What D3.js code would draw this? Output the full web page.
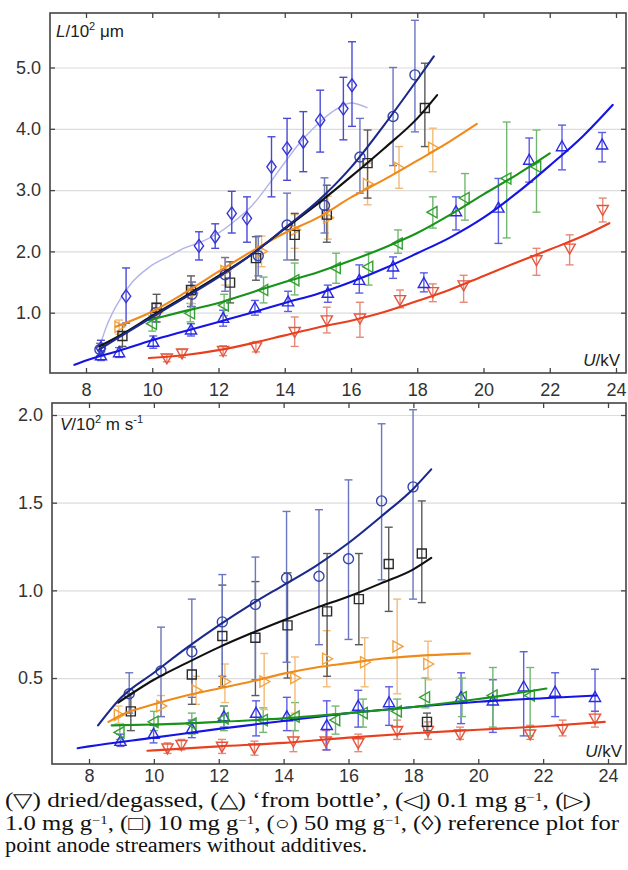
<!DOCTYPE html>
<html><head><meta charset="utf-8">
<script src="https://cdn.jsdelivr.net/npm/d3@7"></script>
<style>
html,body{margin:0;padding:0;background:#fff;}
svg{display:block;}
.cap{font-family:"Liberation Serif","Times New Roman",serif;}
</style></head><body>
<svg id="c" width="628" height="870"></svg>
<script>
// ---------- tick labels ----------
const xTicks = [8,10,12,14,16,18,20,22,24];
const yTicksL = [1,2,3,4,5];
const yTicksV = [0.5,1.0,1.5,2.0];

// ---------- top panel: streamer length L / 10^2 µm  [U kV, L, low, high] ----------
const L_dried = [[10.44,0.26,0.20,0.32],[10.90,0.34,0.27,0.40],[12.14,0.38,0.30,0.46],[13.13,0.44,0.36,0.53],[14.30,0.69,0.45,0.93],[15.27,0.88,0.67,1.09],[16.27,0.91,0.60,1.17],[17.48,1.21,1.08,1.37],[18.47,1.34,1.18,1.47],[19.40,1.45,1.17,1.61],[21.60,1.86,1.61,2.05],[22.60,2.05,1.78,2.27],[23.60,2.68,2.48,2.87]];
const L_bottle = [[8.45,0.30,0.22,0.38],[9.00,0.35,0.27,0.43],[10.03,0.52,0.42,0.62],[11.17,0.72,0.62,0.82],[12.14,0.91,0.78,1.04],[13.10,1.08,0.96,1.20],[14.10,1.18,1.02,1.35],[15.30,1.32,1.17,1.45],[16.25,1.53,1.32,1.78],[17.27,1.75,1.56,1.91],[18.20,1.48,1.34,1.65],[19.17,2.65,2.35,2.89],[20.45,2.71,2.13,3.19],[21.38,3.49,3.13,3.85],[22.37,3.71,3.33,4.06],[23.58,3.74,3.46,3.94]];
const L_01 = [[10.00,0.82,0.70,0.95],[11.15,0.99,0.85,1.15],[12.17,1.12,0.95,1.30],[13.36,1.37,1.16,1.58],[14.30,1.53,1.29,1.81],[15.55,1.73,1.48,1.97],[16.53,1.75,1.45,1.99],[17.42,2.13,1.97,2.35],[18.47,2.64,2.38,2.89],[19.44,2.87,2.51,3.27],[20.70,3.19,2.22,4.11],[21.60,3.38,2.64,3.98]];
const L_1 = [[9.00,0.77,0.65,0.88],[10.13,1.00,0.85,1.15],[11.20,1.32,1.15,1.50],[12.20,1.68,1.45,1.90],[13.30,2.00,1.75,2.25],[14.30,2.35,2.05,2.60],[15.30,2.55,2.20,2.90],[16.50,3.10,2.76,3.44],[17.45,3.36,3.03,3.71],[18.47,3.69,3.30,4.01]];
const L_10 = [[9.10,0.62,0.45,0.80],[10.13,1.08,0.85,1.30],[11.17,1.37,1.10,1.60],[12.35,1.49,1.16,1.83],[13.13,1.89,1.53,2.24],[14.30,2.27,1.86,2.62],[15.27,2.60,2.15,3.08],[16.50,3.44,2.87,3.98],[18.23,4.34,3.71,5.07]];
const L_50 = [[8.42,0.40,0.30,0.50],[10.10,1.00,0.85,1.15],[11.20,1.30,1.10,1.50],[12.20,1.62,1.35,1.90],[13.20,1.93,1.60,2.25],[14.07,2.43,1.86,2.95],[15.20,2.75,2.30,3.20],[16.27,3.54,2.95,4.17],[17.27,4.20,3.40,5.00],[17.93,4.88,3.95,5.77]];
const L_ref = [[8.45,0.42,0.30,0.55],[9.21,1.27,0.83,1.73],[11.41,2.09,1.86,2.32],[11.90,2.24,2.05,2.45],[12.40,2.62,2.30,2.98],[12.86,2.54,2.15,2.89],[13.60,3.38,2.89,3.87],[14.07,3.68,3.16,4.17],[14.56,3.79,3.30,4.28],[15.07,4.14,3.62,4.63],[15.77,4.33,3.82,4.84],[16.03,4.71,4.04,5.42]];

// fitted curves, top panel [U, L]
const fitL_dried = [[9.9,0.26],[11,0.31],[12,0.39],[13,0.50],[14,0.63],[15,0.76],[16,0.87],[17,1.01],[18,1.19],[19,1.38],[20,1.60],[21,1.82],[22,2.03],[23,2.25],[23.8,2.46]];
const fitL_bottle = [[7.65,0.15],[8,0.22],[9,0.38],[10,0.55],[11,0.70],[12,0.85],[13,1.00],[14,1.16],[15,1.31],[16,1.50],[17,1.72],[18,1.97],[19,2.23],[20,2.55],[21,2.95],[22,3.40],[23,3.88],[23.9,4.39]];
const fitL_01 = [[9.9,0.88],[11,1.03],[12,1.16],[13,1.33],[14,1.50],[15,1.66],[16,1.85],[17,2.06],[18,2.30],[19,2.60],[20,2.93],[21,3.25],[22,3.60]];
const fitL_1 = [[8.9,0.77],[10,1.02],[11,1.33],[12,1.67],[13,2.00],[14,2.30],[15,2.55],[16,2.88],[17,3.17],[18,3.48],[19,3.80],[19.8,4.08]];
const fitL_10 = [[8.4,0.45],[9,0.62],[10,0.95],[11,1.27],[12,1.60],[13,1.95],[14,2.37],[15,2.78],[16,3.22],[17,3.68],[18,4.17],[18.6,4.55]];
const fitL_50 = [[8.4,0.40],[9,0.60],[10,0.93],[11,1.25],[12,1.58],[13,1.95],[14,2.38],[15,2.82],[16,3.37],[17,4.06],[18,4.80],[18.5,5.18]];
const fitL_ref = [[8.4,0.42],[8.6,0.75],[8.9,1.10],[9.4,1.50],[9.9,1.74],[10.5,1.92],[11,2.06],[11.5,2.16],[12,2.30],[12.5,2.50],[13,2.74],[13.5,3.08],[14,3.45],[14.5,3.80],[15,4.08],[15.5,4.30],[16,4.42],[16.5,4.34]];

// ---------- bottom panel: velocity V / 10^2 m s^-1 [U kV, V, low, high] ----------
const V_dried = [[10.42,0.10,0.07,0.13],[10.85,0.12,0.09,0.15],[12.10,0.11,0.07,0.15],[13.10,0.10,0.06,0.14],[14.30,0.14,0.08,0.20],[15.30,0.14,0.09,0.20],[16.30,0.13,0.08,0.18],[17.50,0.20,0.15,0.26],[18.45,0.20,0.15,0.25],[19.44,0.18,0.15,0.22],[21.60,0.18,0.15,0.23],[22.60,0.21,0.17,0.26],[23.60,0.27,0.22,0.31]];
const V_bottle = [[8.97,0.14,0.11,0.18],[9.99,0.18,0.13,0.23],[11.17,0.21,0.16,0.26],[12.16,0.28,0.22,0.34],[13.15,0.30,0.17,0.37],[14.10,0.28,0.20,0.39],[15.33,0.23,0.09,0.37],[16.30,0.34,0.22,0.43],[17.25,0.36,0.23,0.45],[19.47,0.39,0.24,0.53],[20.45,0.37,0.19,0.49],[21.40,0.45,0.17,0.65],[22.37,0.42,0.28,0.53],[23.60,0.39,0.31,0.55]];
const V_01 = [[8.95,0.19,0.15,0.24],[10.00,0.25,0.20,0.31],[11.17,0.24,0.18,0.30],[12.16,0.27,0.20,0.34],[13.37,0.26,0.19,0.33],[14.35,0.28,0.20,0.36],[15.60,0.26,0.18,0.34],[16.45,0.30,0.22,0.38],[17.50,0.31,0.22,0.38],[18.37,0.39,0.33,0.50],[19.50,0.39,0.28,0.50],[20.45,0.40,0.22,0.56],[21.60,0.40,0.17,0.56]];
const V_1 = [[8.91,0.29,0.24,0.34],[10.22,0.34,0.28,0.40],[11.30,0.43,0.35,0.51],[12.19,0.48,0.36,0.58],[13.40,0.48,0.32,0.64],[14.35,0.50,0.30,0.62],[15.33,0.61,0.45,0.77],[16.50,0.59,0.45,0.73],[17.50,0.68,0.41,0.95],[18.45,0.58,0.49,0.71]];
const V_10 = [[9.29,0.31,0.20,0.41],[11.17,0.52,0.35,0.68],[12.11,0.74,0.45,1.03],[13.13,0.73,0.40,1.05],[14.12,0.80,0.50,1.10],[15.34,0.88,0.51,1.21],[16.32,0.95,0.69,1.21],[17.24,1.15,0.88,1.36],[18.26,1.21,0.93,1.51],[18.42,0.25,0.20,0.30]];
const V_50 = [[9.24,0.41,0.30,0.53],[10.22,0.54,0.28,0.79],[11.17,0.65,0.39,0.95],[12.11,0.82,0.51,1.09],[13.13,0.92,0.49,1.19],[14.09,1.07,0.59,1.45],[15.09,1.08,0.69,1.46],[16.00,1.18,0.72,1.63],[17.02,1.51,1.06,1.95],[17.99,1.59,0.95,2.03]];

// fitted curves, bottom panel [U, V]
const fitV_dried = [[9.8,0.085],[12,0.11],[14,0.13],[16,0.16],[18,0.185],[20,0.205],[22,0.225],[23.9,0.25]];
const fitV_bottle = [[7.65,0.10],[8,0.11],[10,0.16],[12,0.21],[14,0.255],[16,0.30],[18,0.335],[20,0.365],[22,0.385],[23.65,0.40]];
const fitV_01 = [[8.7,0.23],[10,0.235],[12,0.25],[14,0.27],[16,0.30],[18,0.335],[20,0.38],[22.1,0.44]];
const fitV_1 = [[8.6,0.25],[9,0.29],[10,0.35],[11,0.40],[12,0.44],[13,0.48],[14,0.525],[15,0.56],[16,0.585],[17,0.61],[18,0.625],[19,0.635],[19.75,0.64]];
const fitV_10 = [[8.9,0.36],[10,0.49],[11,0.585],[12,0.675],[13,0.755],[14,0.83],[15,0.90],[16,0.965],[17,1.04],[18,1.12],[18.55,1.185]];
const fitV_50 = [[8.28,0.23],[9,0.39],[10,0.53],[11,0.67],[12,0.80],[13,0.92],[14,1.03],[15,1.14],[16,1.27],[17,1.42],[18,1.58],[18.55,1.69]];

const captionLines = [
  ["(▽) dried/degassed, (△) ‘from bottle’, (◁) 0.1 mg g", "−1", ", (▷)"],
  ["1.0 mg g", "−1", ", (□) 10 mg g", "−1", ", (○) 50 mg g", "−1", ", (◊) reference plot for"],
  ["point anode streamers without additives."]
];

// ---------- styles ----------
const C = {
  red:    {line:"#e8401e", mk:"#e4553f", err:"#e58a78"},
  blue:   {line:"#1414e4", mk:"#2b2be0", err:"#5d5de6"},
  green:  {line:"#17931a", mk:"#36a036", err:"#72b872"},
  orange: {line:"#f08a1a", mk:"#f2a13e", err:"#f3bb78"},
  black:  {line:"#111111", mk:"#2a2a2a", err:"#5a5a5a"},
  navy:   {line:"#1b2a8a", mk:"#3444b0", err:"#6a76c0"},
  ref:    {line:"#b0b4e8", mk:"#3636d6", err:"#4a4ad6"}
};

const shapes = {
  circle: "M-5,0a5,5 0 1,0 10,0a5,5 0 1,0 -10,0Z",
  square: "M-4.5,-4.5h9v9h-9Z",
  diamond:"M0,-6.5L4.6,0L0,6.5L-4.6,0Z",
  up:     "M0,-5.8L5.6,4.2L-5.6,4.2Z",
  down:   "M0,5.8L5.6,-4.2L-5.6,-4.2Z",
  left:   "M-5.8,0L4.2,-5.6L4.2,5.6Z",
  right:  "M5.8,0L-4.2,-5.6L-4.2,5.6Z"
};

const svg = d3.select("#c");
const FONT = "Liberation Sans, Arial, sans-serif";

function panel(cfg){
  const {frame, x, y, yTicks, yFmt, series, fits, refCurve} = cfg;
  const g = svg.append("g");
  const W = frame.r - frame.l;
  g.append("g").attr("transform",`translate(${frame.l},0)`)
    .call(d3.axisLeft(y).tickValues(yTicks).tickSize(-W).tickFormat(""))
    .call(a=>{a.select(".domain").remove(); a.selectAll("line").attr("stroke","#dcdcdc").attr("stroke-width",1.2);});
  const line = d3.line().x(d=>x(d[0])).y(d=>y(d[1])).curve(d3.curveMonotoneX);
  if(refCurve){
    g.append("path").attr("d",line(refCurve)).attr("fill","none")
      .attr("stroke",C.ref.line).attr("stroke-width",1.4);
  }
  series.forEach(s=>{
    const eg = g.append("g").attr("stroke",C[s.c].err).attr("stroke-width",1.4).attr("fill","none");
    s.data.forEach(d=>{
      const xx = x(d[0]);
      eg.append("line").attr("x1",xx).attr("x2",xx).attr("y1",y(d[2])).attr("y2",y(d[3]));
      eg.append("line").attr("x1",xx-4).attr("x2",xx+4).attr("y1",y(d[2])).attr("y2",y(d[2]));
      eg.append("line").attr("x1",xx-4).attr("x2",xx+4).attr("y1",y(d[3])).attr("y2",y(d[3]));
    });
  });
  series.forEach(s=>{
    g.append("g").selectAll("path").data(s.data).join("path")
      .attr("d",shapes[s.shape])
      .attr("transform",d=>`translate(${x(d[0])},${y(d[1])})`)
      .attr("fill","none").attr("stroke",C[s.c].mk).attr("stroke-width",1.4);
  });
  fits.forEach(f=>{
    g.append("path").attr("d",line(f.data)).attr("fill","none")
      .attr("stroke",C[f.c].line).attr("stroke-width",2.1).attr("stroke-linecap","round");
  });
  const styleAx = a=>{a.select(".domain").remove(); a.selectAll("line").attr("stroke","#444").attr("stroke-width",1.3);
    a.selectAll("text").attr("font-family",FONT).attr("font-size",18).attr("fill","#333");};
  g.append("g").attr("transform",`translate(${frame.l},0)`)
    .call(d3.axisLeft(y).tickValues(yTicks).tickFormat(yFmt).tickSize(-5).tickPadding(9)).call(styleAx);
  g.append("g").attr("transform",`translate(${frame.r},0)`)
    .call(d3.axisRight(y).tickValues(yTicks).tickFormat("").tickSize(-5)).call(styleAx);
  g.append("g").attr("transform",`translate(0,${frame.b})`)
    .call(d3.axisBottom(x).tickValues(xTicks).tickFormat(d3.format("d")).tickSize(-5).tickPadding(cfg.xPad)).call(styleAx);
  g.append("g").attr("transform",`translate(0,${frame.t})`)
    .call(d3.axisTop(x).tickValues(xTicks).tickFormat("").tickSize(-5)).call(styleAx);
  g.append("rect").attr("x",frame.l).attr("y",frame.t).attr("width",W).attr("height",frame.b-frame.t)
    .attr("fill","none").attr("stroke","#444").attr("stroke-width",1.6);
  return g;
}

// ---------- top panel ----------
const fT = {l:50, r:626, t:13, b:373};
const xT = d3.scaleLinear().domain([8,24]).range([86,616]);
const yT = d3.scaleLinear().domain([0,5]).range([374,67.5]);
panel({frame:fT, x:xT, y:yT, yTicks:yTicksL, yFmt:d3.format(".1f"), xPad:10,
  refCurve: fitL_ref,
  series:[
    {data:L_ref,c:"ref",shape:"diamond"},
    {data:L_dried,c:"red",shape:"down"},
    {data:L_bottle,c:"blue",shape:"up"},
    {data:L_01,c:"green",shape:"left"},
    {data:L_1,c:"orange",shape:"right"},
    {data:L_10,c:"black",shape:"square"},
    {data:L_50,c:"navy",shape:"circle"}
  ],
  fits:[
    {data:fitL_dried,c:"red"},{data:fitL_bottle,c:"blue"},{data:fitL_01,c:"green"},
    {data:fitL_1,c:"orange"},{data:fitL_10,c:"black"},{data:fitL_50,c:"navy"}
  ]});

// ---------- bottom panel ----------
const fB = {l:52, r:626, t:403, b:764};
const xB = d3.scaleLinear().domain([8,24]).range([89,608]);
const yB = d3.scaleLinear().domain([0,2]).range([765.7,415]);
panel({frame:fB, x:xB, y:yB, yTicks:yTicksV, yFmt:d3.format(".1f"), xPad:5,
  series:[
    {data:V_dried,c:"red",shape:"down"},
    {data:V_bottle,c:"blue",shape:"up"},
    {data:V_01,c:"green",shape:"left"},
    {data:V_1,c:"orange",shape:"right"},
    {data:V_10,c:"black",shape:"square"},
    {data:V_50,c:"navy",shape:"circle"}
  ],
  fits:[
    {data:fitV_dried,c:"red"},{data:fitV_bottle,c:"blue"},{data:fitV_01,c:"green"},
    {data:fitV_1,c:"orange"},{data:fitV_10,c:"black"},{data:fitV_50,c:"navy"}
  ]});

// ---------- axis titles ----------
function title(x, y, parts, anchor){
  const t = svg.append("text").attr("x",x).attr("y",y).attr("font-family",FONT)
    .attr("font-size",17).attr("fill","#222").attr("text-anchor",anchor||"start");
  parts.forEach(p=>{
    const ts = t.append("tspan").text(p.t);
    if(p.i) ts.attr("font-style","italic");
    if(p.sup){ ts.attr("font-size",11).attr("dy",-7); }
    if(p.down){ ts.attr("dy",7); }
  });
}
title(56, 37, [{t:"L",i:1},{t:"/10"},{t:"2",sup:1},{t:" μm",down:1}]);
title(60, 430, [{t:"V",i:1},{t:"/10"},{t:"2",sup:1},{t:" m s",down:1},{t:"-1",sup:1}]);
title(620, 366, [{t:"U",i:1},{t:"/kV"}], "end");
title(622, 757, [{t:"U",i:1},{t:"/kV"}], "end");

// ---------- caption ----------
const capY = [807, 830, 852];
const capW = [586, 614, 362];
captionLines.forEach((parts,i)=>{
  const t = svg.append("text").attr("class","cap").attr("x",5).attr("y",capY[i])
    .attr("font-size",20).attr("fill","#111")
    .attr("textLength",capW[i]).attr("lengthAdjust","spacingAndGlyphs");
  parts.forEach((p,j)=>{
    const sup = (p === "−1");
    const ts = t.append("tspan").text(p);
    if(sup){ ts.attr("font-size",12).attr("dy",-6); }
    else if(j>0 && parts[j-1]==="−1"){ ts.attr("dy",6); }
  });
});
</script>
</body></html>
